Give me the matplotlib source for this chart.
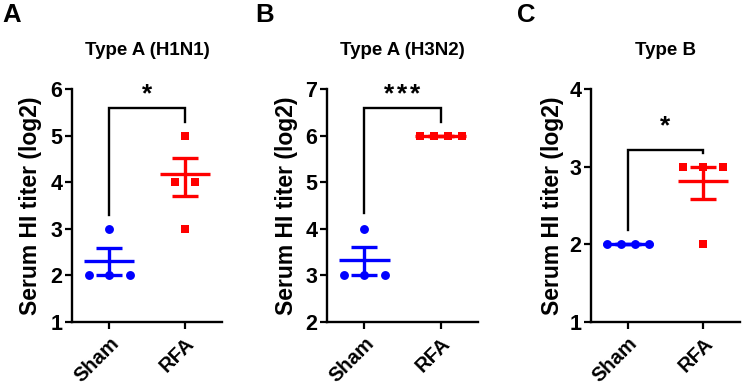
import numpy as np
import matplotlib
matplotlib.use("Agg")
import matplotlib.pyplot as plt

plt.rcParams['font.family'] = ['Liberation Sans', 'DejaVu Sans']
plt.rcParams['font.weight'] = 'bold'

# ---------------- data ----------------
groups = ["Sham", "RFA"]
panel_letters = ["A", "B", "C"]
panel_titles = ["Type A (H1N1)", "Type A (H3N2)", "Type B"]
ylabel = "Serum HI titer (log2)"

sham_A = [2, 2, 2, 3]
rfa_A = [5, 4, 4, 3]
sham_B = [3, 3, 3, 4]
rfa_B = [6, 6, 6, 6]
sham_C = [2, 2, 2, 2]
rfa_C = [3, 3, 3, 2]

# mean line and SEM bounds (center, low, high)
sham_A_summary = [2.31, 2.00, 2.59]
rfa_A_summary = [4.17, 3.70, 4.52]
sham_B_summary = [3.34, 3.00, 3.60]
rfa_B_summary = [6.00, 6.00, 6.00]
sham_C_summary = [2.00, 2.00, 2.00]
rfa_C_summary = [2.81, 2.58, 3.00]

y_ranges = [(1, 6), (2, 7), (1, 4)]
y_ticks = [[1, 2, 3, 4, 5, 6], [2, 3, 4, 5, 6, 7], [1, 2, 3, 4]]

# significance: bracket top, left leg bottom, right leg bottom, star count, star y
bracket_top = [5.59, 6.59, 3.215]
bracket_left = [3.29, 4.33, 2.19]
bracket_right = [5.30, 6.30, 3.17]
sig_stars = [1, 3, 1]
sig_y = [5.88, 6.89, 3.52]

panels = [
    (sham_A, rfa_A, sham_A_summary, rfa_A_summary),
    (sham_B, rfa_B, sham_B_summary, rfa_B_summary),
    (sham_C, rfa_C, sham_C_summary, rfa_C_summary),
]

# ---------------- style ----------------
BLUE = "#0000ff"
RED = "#ff0000"
W, H = 745, 390
fig = plt.figure(figsize=(W / 100, H / 100), dpi=100)

axes_px = [(72, 222), (327, 478), (591, 740)]
letter_px = [2, 255, 517]
ylabel_ax_x = [-0.28, -0.27, -0.26]
top_px, bot_px = 89, 322


def spread(values, max_step=0.27, total=0.55):
    values = np.asarray(values, dtype=float)
    offs = np.zeros_like(values)
    for v in np.unique(values):
        idx = np.where(values == v)[0]
        n = len(idx)
        if n > 1:
            step = min(max_step, total / (n - 1))
            offs[idx] = (np.arange(n) - (n - 1) / 2) * step
    return offs


for i, (sham, rfa, s_sum, r_sum) in enumerate(panels):
    l, r = axes_px[i]
    ax = fig.add_axes([l / W, 1 - bot_px / H, (r - l) / W, (bot_px - top_px) / H])
    ax.set_xlim(-0.49, 1.49)
    ax.set_ylim(*y_ranges[i])
    ax.set_yticks(y_ticks[i])
    ax.set_xticks([0, 1])
    ax.set_xticklabels(groups, rotation=45, ha='right', rotation_mode='anchor',
                       fontsize=14.5, fontweight='bold')
    ax.tick_params(axis='y', labelsize=15.5, width=1.6, length=5, pad=2)
    ax.tick_params(axis='x', width=1.6, length=5, pad=3.5)
    for lab in ax.get_yticklabels():
        lab.set_fontweight('bold')
    for sp in ['top', 'right']:
        ax.spines[sp].set_visible(False)
    for sp in ['left', 'bottom']:
        ax.spines[sp].set_linewidth(1.7)

    for gx, vals, summ, col, mk in [(0, sham, s_sum, BLUE, 'o'), (1, rfa, r_sum, RED, 's')]:
        xs = gx + spread(vals)
        ax.plot(xs, vals, linestyle='none', marker=mk, markersize=6.4,
                markerfacecolor=col, markeredgewidth=0, zorder=3)
        c, lo, hi = summ
        ax.plot([gx - 0.33, gx + 0.33], [c, c], color=col, lw=2.4,
                solid_capstyle='butt', zorder=4)
        ax.plot([gx, gx], [lo, hi], color=col, lw=2.4, solid_capstyle='butt', zorder=4)
        for yy in (lo, hi):
            ax.plot([gx - 0.17, gx + 0.17], [yy, yy], color=col, lw=2.4,
                    solid_capstyle='butt', zorder=4)

    ax.plot([0, 0, 1, 1], [bracket_left[i], bracket_top[i], bracket_top[i], bracket_right[i]],
            color='black', lw=1.7, solid_joinstyle='miter', zorder=2, clip_on=False)
    n = sig_stars[i]
    for k in range(n):
        ax.text(0.5 + (k - (n - 1) / 2) * 0.17, sig_y[i], "*", ha='center', va='center',
                fontsize=19, fontweight='bold', clip_on=False)

    ax.set_title(panel_titles[i], fontsize=13.5, fontweight='bold', pad=24.5)
    ax.text(ylabel_ax_x[i], 0.5, ylabel, transform=ax.transAxes, rotation=90,
            ha='center', va='center', fontsize=16.5, fontweight='bold')

    fig.text(letter_px[i] / W, 1 - 22 / H, panel_letters[i], ha='left', va='baseline',
             fontsize=18.5, fontweight='bold')

fig.savefig("out.png", dpi=100)
